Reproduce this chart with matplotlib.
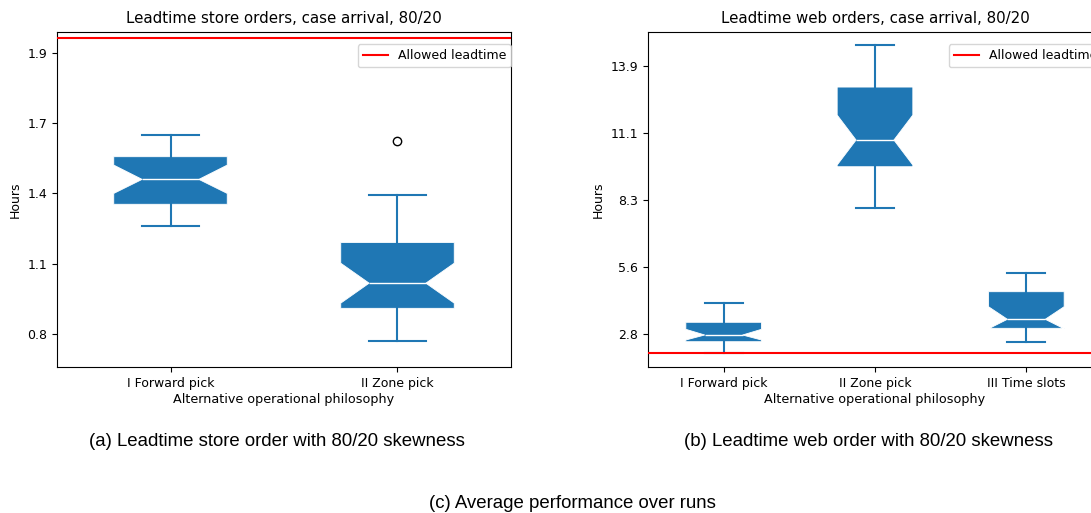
import matplotlib
matplotlib.use("Agg")
import matplotlib.pyplot as plt
import numpy as np

# ---- data ----
store_labels = ['I Forward pick', 'II Zone pick']
store_med = [1.427, 1.006]
store_q1 = [1.326, 0.904]
store_q3 = [1.519, 1.171]
store_cilo = [1.370, 0.925]
store_cihi = [1.485, 1.087]
store_whislo = [1.239, 0.773]
store_whishi = [1.607, 1.363]
store_fliers = [[], [1.582]]
store_allowed = 2.0
store_ticks = [0.80, 1.085, 1.37, 1.655, 1.94]

web_labels = ['I Forward pick', 'II Zone pick', 'III Time slots']
web_med = [2.751, 10.824, 3.401]
web_q1 = [2.474, 9.719, 3.028]
web_q3 = [3.277, 13.018, 4.544]
web_cilo = [2.544, 9.789, 3.008]
web_cihi = [2.987, 11.859, 3.923]
web_whislo = [1.993, 7.996, 2.474]
web_whishi = [4.063, 14.757, 5.305]
web_fliers = [[], [], []]
web_allowed = 1.99
web_ticks = [2.78, 5.56, 8.34, 11.12, 13.9]

titles = ['Leadtime store orders, case arrival, 80/20',
          'Leadtime web orders, case arrival, 80/20']
captions = ['(a) Leadtime store order with 80/20 skewness',
            '(b) Leadtime web order with 80/20 skewness']
main_caption = '(c) Average performance over runs'

W, H = 1091, 513
fig = plt.figure(figsize=(W / 100, H / 100), dpi=100)

C0 = '#1f77b4'


def make_stats(labels, med, q1, q3, cilo, cihi, lo, hi, fl):
    out = []
    for i in range(len(labels)):
        out.append(dict(label=labels[i], med=med[i], q1=q1[i], q3=q3[i],
                        cilo=cilo[i], cihi=cihi[i], whislo=lo[i],
                        whishi=hi[i], fliers=fl[i]))
    return out


def draw(ax, stats, allowed, ticks, ylim, title):
    ax.bxp(stats, shownotches=True, patch_artist=True, widths=0.5,
           boxprops=dict(facecolor=C0, edgecolor='white', linewidth=0.6),
           medianprops=dict(color='white', linewidth=1.0),
           whiskerprops=dict(color=C0, linewidth=1.5),
           capprops=dict(color=C0, linewidth=1.5),
           flierprops=dict(marker='o', markerfacecolor='none',
                           markeredgecolor='black', markersize=6))
    ax.axhline(allowed, color='red', linewidth=1.5, label='Allowed leadtime', zorder=3)
    ax.set_yticks(ticks)
    ax.set_yticklabels(['%.1f' % t for t in ticks])
    ax.set_ylim(*ylim)
    ax.set_title(title, fontsize=10.8, pad=6)
    ax.set_ylabel('Hours', fontsize=9)
    ax.set_xlabel('Alternative operational philosophy', fontsize=9.2, labelpad=2)
    ax.tick_params(labelsize=9)
    ax.legend(loc='upper right', bbox_to_anchor=(1.0, 0.963), borderaxespad=0,
              fontsize=9)


top = 31.7
bottom = 367
axw = 454
ax1 = fig.add_axes([57 / W, (H - bottom) / H, axw / W, (bottom - top) / H])
ax2 = fig.add_axes([648 / W, (H - bottom) / H, axw / W, (bottom - top) / H])

draw(ax1, make_stats(store_labels, store_med, store_q1, store_q3, store_cilo,
                     store_cihi, store_whislo, store_whishi, store_fliers),
     store_allowed, store_ticks, (0.666, 2.026), titles[0])
draw(ax2, make_stats(web_labels, web_med, web_q1, web_q3, web_cilo,
                     web_cihi, web_whislo, web_whishi, web_fliers),
     web_allowed, web_ticks, (1.426, 15.31), titles[1])

cap_font = ['Liberation Sans', 'DejaVu Sans']
fig.text(277 / W, 1 - 442 / H, captions[0], ha='center', va='center',
         fontsize=13.4, family=cap_font)
fig.text(868 / W, 1 - 442 / H, captions[1], ha='center', va='center',
         fontsize=13.4, family=cap_font)
fig.text(572 / W, 1 - 504 / H, main_caption, ha='center', va='center',
         fontsize=13.4, family=cap_font)

fig.savefig('out.png', dpi=100)
